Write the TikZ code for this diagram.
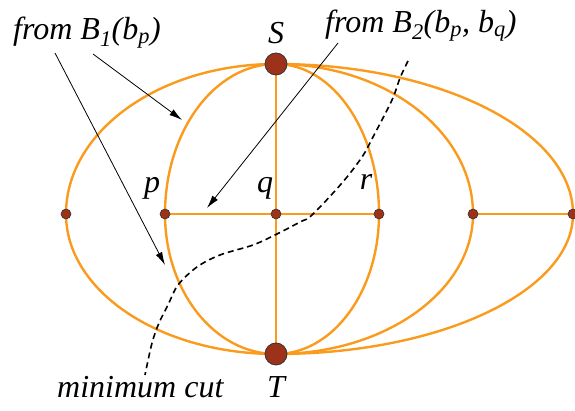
\documentclass[tikz,border=0pt]{standalone}
\usepackage{fontspec}
\setmainfont{Liberation Serif}
\newfontfamily\labelfont{Liberation Serif Italic}
\usetikzlibrary{arrows.meta}
\definecolor{edgeorange}{RGB}{250,155,30}
\definecolor{vertexbrown}{RGB}{155,50,25}
\pgfdeclarelayer{bg}
\pgfsetlayers{bg,main}
\begin{document}
\begin{tikzpicture}[x=1pt,y=1pt,
  edge/.style={draw=edgeorange,line width=2.4pt},
  bigv/.style={circle,fill=vertexbrown,draw=black!80,line width=0.8pt,minimum size=22pt,inner sep=0pt},
  smallv/.style={circle,fill=vertexbrown,draw=black!80,line width=0.6pt,minimum size=10pt,inner sep=0pt},
  lbl/.style={font=\labelfont\fontsize{32}{36}\selectfont,inner sep=0pt},
  pointer/.style={draw=black,line width=0.8pt,-{Latex[length=13pt,width=7pt]}},
  cut/.style={draw=black,line width=1.6pt,dash pattern=on 6pt off 4pt}]
\useasboundingbox (0,0) rectangle (575,411);
% vertices
\node[bigv] (S) at (276,347) {};
\node[bigv] (T) at (276,57) {};
\node[smallv] (a) at (66,197) {};
\node[smallv] (p) at (165,197) {};
\node[smallv] (q) at (276,197) {};
\node[smallv] (r) at (379,197) {};
\node[smallv] (c) at (473,197) {};
\node[smallv] (d) at (573,197) {};
% edges
\begin{pgfonlayer}{bg}
\draw[edge] (S.center) arc[start angle=90,end angle=180,x radius=210,y radius=150]
                       arc[start angle=180,end angle=270,x radius=210,y radius=140];
\draw[edge] (S.center) arc[start angle=90,end angle=180,x radius=111,y radius=150]
                       arc[start angle=180,end angle=270,x radius=111,y radius=140];
\draw[edge] (S.center) arc[start angle=90,end angle=0,x radius=103,y radius=150]
                       arc[start angle=0,end angle=-90,x radius=103,y radius=140];
\draw[edge] (S.center) arc[start angle=90,end angle=0,x radius=197,y radius=150]
                       arc[start angle=0,end angle=-90,x radius=197,y radius=140];
\draw[edge] (S.center) arc[start angle=90,end angle=0,x radius=297,y radius=150]
                       arc[start angle=0,end angle=-90,x radius=297,y radius=140];
\draw[edge] (S.center) -- (T.center);
\draw[edge] (p.center) -- (q.center) -- (r.center);
\draw[edge] (c.center) -- (d.center);
\end{pgfonlayer}
% labels
\node[lbl,anchor=base] (Sl) at (276,367) {S};
\node[lbl,anchor=base] (Tl) at (276,13) {T};
\node[lbl,anchor=base] (pl) at (152,218) {p};
\node[lbl,anchor=base] (ql) at (265,218) {q};
\node[lbl,anchor=base] (rl) at (366,221) {r};
\node[lbl,anchor=base west] (b1) at (13,371) {from B\textsubscript{1}(b\textsubscript{p})};
\node[lbl,anchor=base west] (b2) at (325,378) {from B\textsubscript{2}(b\textsubscript{p}, b\textsubscript{q})};
\node[lbl,anchor=base west] (mc) at (57,13) {minimum cut};
% pointers
\coordinate (a1s) at (55,358);
\coordinate (a1e) at (165,146);
\coordinate (a2s) at (93,357);
\coordinate (a2e) at (182,291);
\coordinate (a3s) at (338,368);
\coordinate (a3e) at (207,203);
\draw[pointer] (a1s) -- (a1e);
\draw[pointer] (a2s) -- (a2e);
\draw[pointer] (a3s) -- (a3e);
% minimum cut
\draw[cut] plot[smooth,tension=0.55] coordinates {(408,350) (400,333) (392,311) (373,274) (362,254) (342,228) (312,196) (300,189) (277,177) (253,166) (220,156) (197,144) (178,126) (168,106) (159,88) (152,68) (145,36)};
\end{tikzpicture}
\end{document}
